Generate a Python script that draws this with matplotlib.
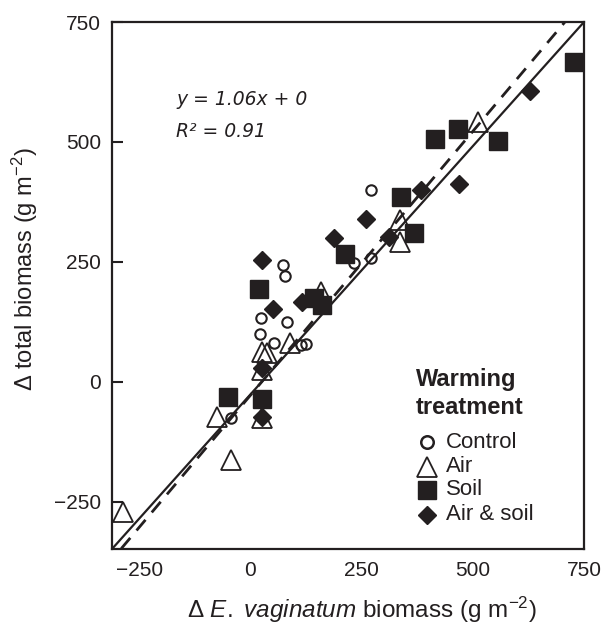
import matplotlib
matplotlib.use('Agg')
import matplotlib.pyplot as plt

plt.rcParams['font.family'] = ['Liberation Sans', 'DejaVu Sans']
plt.rcParams['mathtext.fontset'] = 'custom'
plt.rcParams['mathtext.rm'] = 'Liberation Sans'
plt.rcParams['mathtext.it'] = 'Liberation Sans:italic'

INK = '#231f20'

# treatment data: x = change in E. vaginatum biomass, y = change in total biomass
control_x = [-43, 22, 23, 74, 79, 83, 54, 113, 124, 232, 272, 272]
control_y = [-75, 100, 133, 244, 221, 125, 81, 77, 79, 248, 258, 400]

air_x = [-286, -74, -43, 27, 27, 27, 38, 90, 158, 336, 336, 511]
air_y = [-271, -73, -163, -75, 25, 63, 60, 81, 188, 338, 292, 542]

soil_x = [-50, 27, 20, 144, 160, 212, 338, 367, 414, 466, 556, 727]
soil_y = [-31, -35, 194, 175, 160, 267, 385, 310, 506, 527, 502, 667]

airsoil_x = [27, 27, 27, 50, 117, 189, 259, 311, 383, 468, 628]
airsoil_y = [-73, 29, 254, 152, 167, 300, 340, 302, 400, 413, 606]

# regression line and dashed reference line
fit_x = [-311, 750]
fit_y = [-348, 750]
ref_x = [-290, 708]
ref_y = [-347, 751]

legend_labels = ['Control', 'Air', 'Soil', 'Air & soil']

fig = plt.figure(figsize=(6.04, 6.25), dpi=100)
ax = fig.add_axes([0.1854, 0.1216, 0.7815, 0.8432])

ax.plot(fit_x, fit_y, color=INK, lw=1.6, zorder=2)
ax.plot(ref_x, ref_y, color=INK, lw=2.0, dashes=(5, 3.5), zorder=2)

ax.plot(control_x, control_y, 'o', ms=7.5, mfc='none', mec=INK, mew=1.5, zorder=3)
ax.plot(air_x, air_y, '^', ms=15, mfc='none', mec=INK, mew=1.3, zorder=3)
ax.plot(soil_x, soil_y, 's', ms=13.5, mfc=INK, mec=INK, zorder=4)
ax.plot(airsoil_x, airsoil_y, 'D', ms=9, mfc=INK, mec=INK, zorder=5)

ax.set_xlim(-311, 750)
ax.set_ylim(-348, 750)
ax.set_xticks([-250, 0, 250, 500, 750])
ax.set_yticks([-250, 0, 250, 500, 750])
ax.set_xticklabels(['\u2212250', '0', '250', '500', '750'])
ax.set_yticklabels(['\u2212250', '0', '250', '500', '750'])
ax.tick_params(axis='x', length=0, pad=9, labelsize=15, colors=INK)
ax.tick_params(axis='y', direction='in', length=8, width=1.5, pad=8,
               labelsize=15, colors=INK)
for s in ax.spines.values():
    s.set_linewidth(1.6)
    s.set_color(INK)

ax.set_xlabel('\u0394 $\\mathit{E.\\ vaginatum}$ biomass (g m$^{\u2212 2}$)',
              fontsize=17.5, color=INK)
ax.set_ylabel('\u0394 total biomass (g m$^{\u2212 2}$)', fontsize=17, color=INK)
ax.xaxis.set_label_coords(0.53, -0.086)
ax.yaxis.set_label_coords(-0.153, 0.53)

# equation
ax.text(0.136, 0.842, 'y = 1.06x + 0', transform=ax.transAxes, fontsize=13.5,
        style='italic', family='DejaVu Sans', color=INK, va='baseline')
ax.text(0.136, 0.782, 'R\u00b2 = 0.91', transform=ax.transAxes, fontsize=13.5,
        style='italic', family='DejaVu Sans', color=INK, va='baseline')

# legend
ax.text(0.644, 0.321, 'Warming', transform=ax.transAxes, fontsize=17,
        fontweight='bold', color=INK, va='center')
ax.text(0.644, 0.268, 'treatment', transform=ax.transAxes, fontsize=17,
        fontweight='bold', color=INK, va='center')
leg_y = [0.203, 0.156, 0.112, 0.065]
leg_styles = [dict(marker='o', ms=9, mfc='none', mec=INK, mew=1.8),
              dict(marker='^', ms=15, mfc='none', mec=INK, mew=1.3),
              dict(marker='s', ms=13, mfc=INK, mec=INK),
              dict(marker='D', ms=9, mfc=INK, mec=INK)]
for yy, lab, st in zip(leg_y, legend_labels, leg_styles):
    ax.plot([0.667], [yy], transform=ax.transAxes, ls='none', clip_on=False, **st)
    ax.text(0.708, yy, lab, transform=ax.transAxes, fontsize=16, color=INK,
            va='center')

fig.savefig('out.png', dpi=100)
